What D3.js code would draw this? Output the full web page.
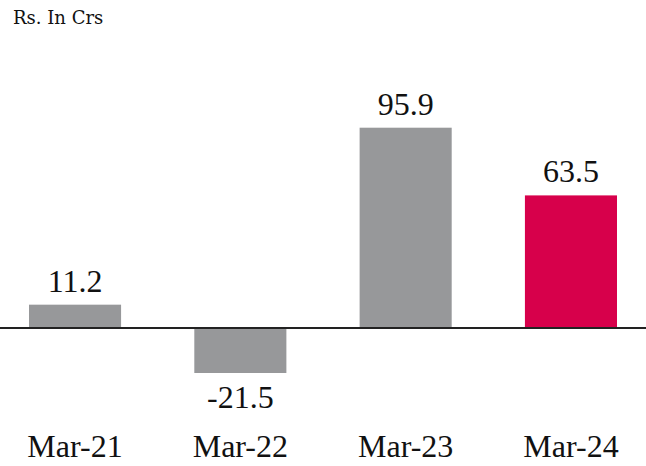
<!DOCTYPE html>
<html>
<head>
<meta charset="utf-8">
<script src="https://cdn.jsdelivr.net/npm/d3@7/dist/d3.min.js"></script>
<style>
  body { margin: 0; background: #fff; }
  text { font-family: "Liberation Serif", serif; fill: #111; }
</style>
</head>
<body>
<svg width="646" height="466"></svg>
<script>
var categories = ["Mar-21", "Mar-22", "Mar-23", "Mar-24"];
var values = [11.2, -21.5, 95.9, 63.5];
var colors = ["#97989a", "#97989a", "#97989a", "#d7004b"];

var svg = d3.select("svg");

var x = d3.scaleBand()
    .domain(categories)
    .range([29, 617])
    .paddingInner(0.443)
    .paddingOuter(0);

var y = d3.scaleLinear()
    .domain([-21.5, 95.9])
    .range([373, 127.7]);

svg.append("text")
    .attr("x", 13)
    .attr("y", 24)
    .style("font-family", "'DejaVu Serif', serif")
    .style("font-size", "18px")
    .text("Rs. In Crs");

svg.selectAll("rect.bar")
    .data(values)
    .enter().append("rect")
    .attr("class", "bar")
    .attr("x", function(d, i) { return x(categories[i]); })
    .attr("width", x.bandwidth())
    .attr("y", function(d) { return y(Math.max(0, d)); })
    .attr("height", function(d) { return Math.abs(y(d) - y(0)); })
    .attr("fill", function(d, i) { return colors[i]; });

svg.append("line")
    .attr("x1", 0)
    .attr("x2", 646)
    .attr("y1", y(0))
    .attr("y2", y(0))
    .attr("stroke", "#222")
    .attr("stroke-width", 2);

svg.selectAll("text.val")
    .data(values)
    .enter().append("text")
    .attr("class", "val")
    .attr("x", function(d, i) { return x(categories[i]) + x.bandwidth() / 2; })
    .attr("y", function(d) { return d >= 0 ? y(d) - 13 : y(d) + 35; })
    .attr("text-anchor", "middle")
    .style("font-size", "32px")
    .text(function(d) { return d; });

svg.selectAll("text.cat")
    .data(categories)
    .enter().append("text")
    .attr("class", "cat")
    .attr("x", function(d) { return x(d) + x.bandwidth() / 2; })
    .attr("y", 457)
    .attr("text-anchor", "middle")
    .style("font-size", "32px")
    .text(function(d) { return d; });
</script>
</body>
</html>
